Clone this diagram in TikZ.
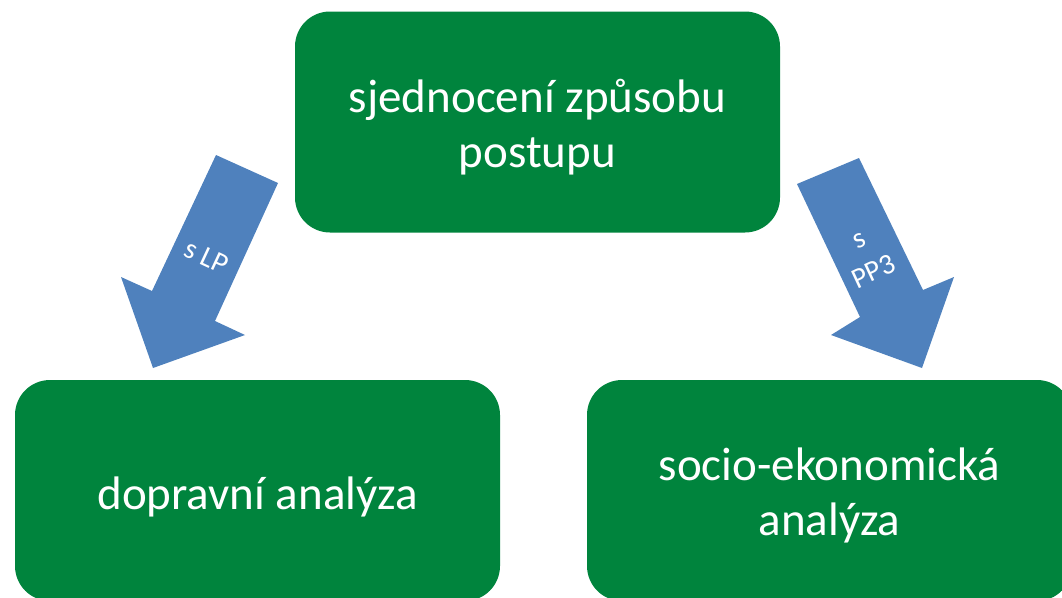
\documentclass[tikz,border=0pt]{standalone}
\usepackage{fontspec}
\setmainfont{Carlito}
\definecolor{boxgreen}{RGB}{0,132,61}
\definecolor{arrowblue}{RGB}{79,129,189}
\begin{document}
\begin{tikzpicture}[x=1pt,y=-1pt,
  box/.style={fill=boxgreen, draw=none, rounded corners=35pt, minimum width=485pt, minimum height=221pt, inner sep=0pt},
  boxtext/.style={text=white, align=center, font=\fontsize{47}{55}\selectfont, inner sep=0pt},
  blockarrow/.style={fill=arrowblue, draw=none},
  arrowlabel/.style={text=white, align=center, font=\fontsize{29}{36}\selectfont, inner sep=0pt}]
\useasboundingbox (0,0) rectangle (1062,597);
\clip (0,0) rectangle (1062,597);
\node[box] (top) at (537.5,122) {};
\node[box] (left) at (257.5,490.5) {};
\node[box] (right) at (829.5,490.5) {};
\node[boxtext] (toptext) at ([yshift=-5pt]top.center) {sjednocení způsobu\\postupu};
\node[boxtext] (lefttext) at ([yshift=-6pt]left.center) {dopravní analýza};
\node[boxtext] (righttext) at ([yshift=-5pt]right.center) {socio-ekonomická\\analýza};
% left block arrow
\coordinate (la1) at (216,155);
\coordinate (la2) at (278,183);
\coordinate (la3) at (215,321);
\coordinate (la4) at (245,335);
\coordinate (la5) at (153,368);
\coordinate (la6) at (121,277);
\coordinate (la7) at (152,291);
\fill[blockarrow] (la1) -- (la2) -- (la3) -- (la4) -- (la5) -- (la6) -- (la7) -- cycle;
\node[arrowlabel, rotate=-25] (lpl) at (207,257) {s LP};
% right block arrow
\coordinate (ra1) at (797,184);
\coordinate (ra2) at (859,158);
\coordinate (ra3) at (923,290);
\coordinate (ra4) at (954,277);
\coordinate (ra5) at (922,368);
\coordinate (ra6) at (831,335);
\coordinate (ra7) at (860,317);
\fill[blockarrow] (ra1) -- (ra2) -- (ra3) -- (ra4) -- (ra5) -- (ra6) -- (ra7) -- cycle;
\node[arrowlabel, rotate=25] (ppl) at (867,257) {s\\PP3};
\end{tikzpicture}
\end{document}
